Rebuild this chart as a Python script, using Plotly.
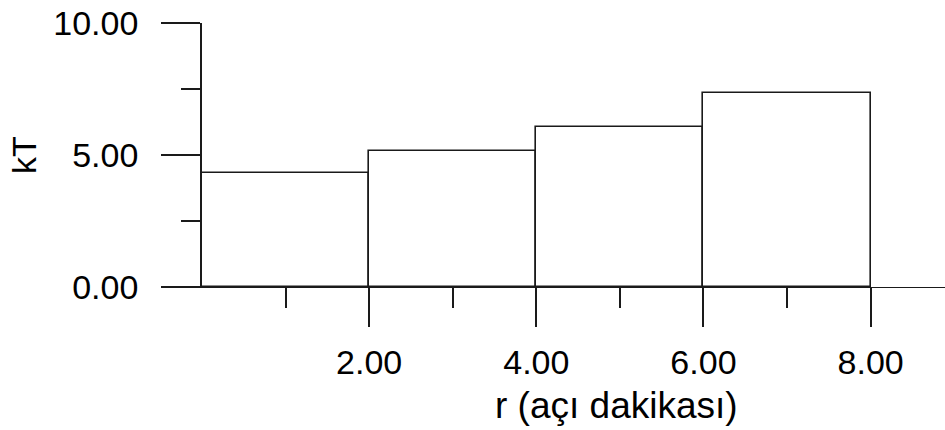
import plotly.graph_objects as go

# Data
bin_left = [0, 2, 4, 6]
bin_width = [2, 2, 2, 2]
kT = [4.31, 5.15, 6.07, 7.33]

x_major_ticks = [2, 4, 6, 8]
x_minor_ticks = [1, 3, 5, 7]
y_major_ticks = [0, 5, 10]
y_minor_ticks = [2.5, 7.5]

FONT = "Liberation Sans, Arial, sans-serif"
INK = "#1a1a1a"

fig = go.Figure()
fig.add_trace(go.Bar(
    x=bin_left, y=kT, width=bin_width, offset=0,
    marker=dict(color="white", line=dict(color=INK, width=1.6)),
    showlegend=False, hoverinfo="skip",
))

fig.update_layout(
    width=945, height=430,
    margin=dict(l=202, r=0, t=23, b=143),
    paper_bgcolor="white", plot_bgcolor="white",
    font=dict(family=FONT, size=34, color="black"),
    bargap=0,
    xaxis=dict(
        range=[0, 8.89], showgrid=False, zeroline=False,
        showline=True, linecolor=INK, linewidth=1.3,
        tickmode="array", tickvals=x_major_ticks, tickformat=".2f",
        ticks="outside", ticklen=39, tickwidth=1.6, tickcolor=INK,
        ticklabelstandoff=6,
        minor=dict(tickmode="array", tickvals=x_minor_ticks, ticks="outside",
                   ticklen=20, tickwidth=1.6, tickcolor=INK, showgrid=False),
    ),
    yaxis=dict(
        range=[0, 10], showgrid=False, zeroline=False,
        showline=True, linecolor=INK, linewidth=1.6,
        tickmode="array", tickvals=y_major_ticks, tickformat=".2f",
        ticks="outside", ticklen=39, tickwidth=1.6, tickcolor=INK,
        ticklabelstandoff=16,
        minor=dict(tickmode="array", tickvals=y_minor_ticks, ticks="outside",
                   ticklen=19, tickwidth=1.6, tickcolor=INK, showgrid=False),
    ),
    annotations=[
        dict(text="r (açı dakikası)", xref="x", x=4.96, yref="paper",
             y=(287 - 405) / 264, xanchor="center", yanchor="middle",
             showarrow=False, font=dict(size=37)),
        dict(text="kT", xref="paper", x=(24 - 202) / 743, yref="paper", y=0.5,
             xanchor="center", yanchor="middle", textangle=-90,
             showarrow=False, font=dict(size=34)),
    ],
)

fig.write_html("out.html")
